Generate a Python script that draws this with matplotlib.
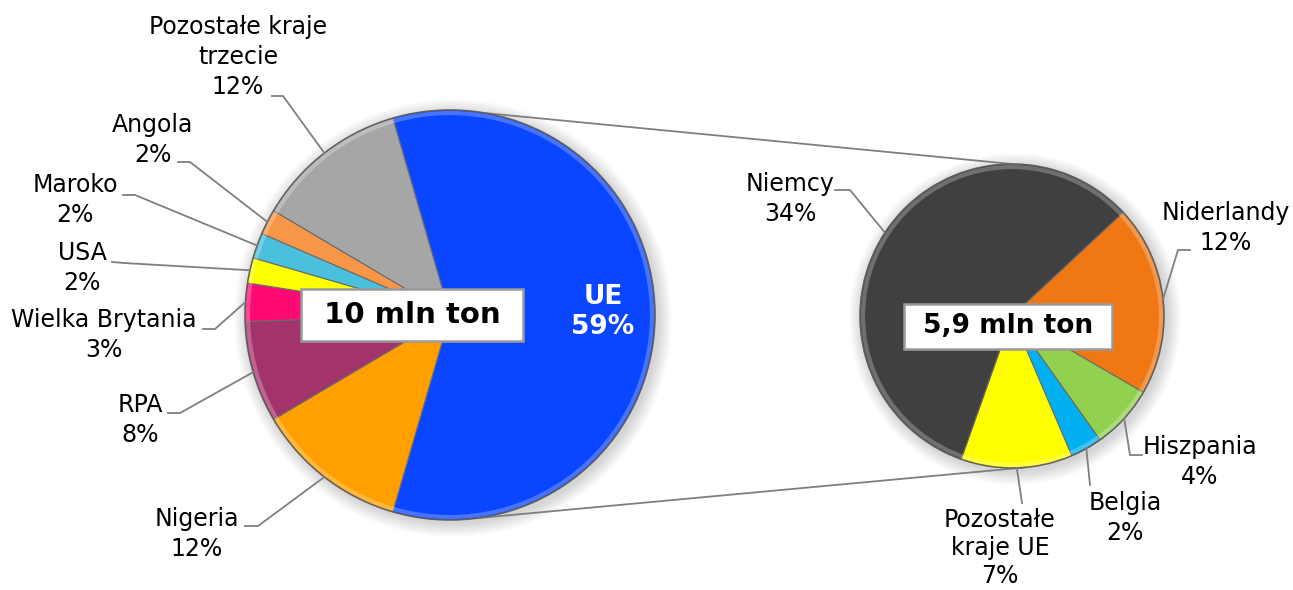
import numpy as np
import matplotlib.pyplot as plt
from matplotlib.patches import Circle

plt.rcParams["font.family"] = "DejaVu Sans"

# ---- main pie: sources, share of 10 mln ton (%) ----
main_labels = ["UE", "Nigeria", "RPA", "Wielka Brytania", "USA", "Maroko",
               "Angola", "Pozostałe kraje\ntrzecie"]
main_values = [59, 12, 8, 3, 2, 2, 2, 12]
main_colors = ["#0A46FF", "#FFA000", "#A3336B", "#FF0A73", "#FFFF00",
               "#4BC0DC", "#F79646", "#A6A6A6"]

# ---- second pie: split of UE (% of total) ----
eu_labels = ["Niderlandy", "Hiszpania", "Belgia", "Pozostałe\nkraje UE", "Niemcy"]
eu_values = [12, 4, 2, 7, 34]
eu_colors = ["#F07814", "#92D050", "#00B0F0", "#FFFF00", "#404040"]

main_total = "10 mln ton"
eu_total = "5,9 mln ton"

W, H = 1293, 590
def P(x, y):            # pixel (from top) -> axes coords
    return (x, H - y)

C1, R1 = P(450, 315), 205
C2, R2 = P(1012, 316), 152

fig = plt.figure(figsize=(W / 100, H / 100), dpi=100)
ax = fig.add_axes([0, 0, 1, 1])

# soft shadow behind pies
for c, r in [(C1, R1), (C2, R2)]:
    for k in range(14):
        ax.add_patch(Circle((c[0] + 3, c[1] - 3), r + 14 - k, color="black",
                            alpha=0.012, lw=0, zorder=0))

start1 = 90 + (main_values[0] / sum(main_values) * 360 - 180) / 2
w1, _ = ax.pie(main_values, colors=main_colors, startangle=start1, counterclock=False,
               center=C1, radius=R1,
               wedgeprops=dict(edgecolor="#6b6b6b", linewidth=0.8))
w2, _ = ax.pie(eu_values, colors=eu_colors, startangle=43, counterclock=False,
               center=C2, radius=R2,
               wedgeprops=dict(edgecolor="#6b6b6b", linewidth=0.8))

# bevel-ish highlight at the rim
for c, r in [(C1, R1), (C2, R2)]:
    ax.add_patch(Circle(c, r - 3, fill=False, ec="white", lw=3, alpha=0.25, zorder=3))
    ax.add_patch(Circle(c, r, fill=False, ec="#555555", lw=1.2, alpha=0.6, zorder=3))

def edge(c, r, w):
    a = np.deg2rad((w.theta1 + w.theta2) / 2)
    return (c[0] + r * np.cos(a), c[1] + r * np.sin(a))

def pt(c, r, deg):
    a = np.deg2rad(deg)
    return (c[0] + r * np.cos(a), c[1] + r * np.sin(a))

# connector lines between the pies
for a1, a2 in [(80, 90), (-82, -85)]:
    p1, p2 = pt(C1, R1, a1), pt(C2, R2, a2)
    ax.plot([p1[0], p2[0]], [p1[1], p2[1]], color="#7f7f7f", lw=1.3, zorder=1)

lbl_font = dict(fontsize=17, color="black", ha="center", va="center", linespacing=1.3)
line_kw = dict(color="#7f7f7f", lw=1.3, zorder=4)

# label layout: text centre, leader start, elbow
main_layout = {
    1: ((197, 534), (245, 526), (258, 526)),
    2: ((140, 420), (168, 413), (180, 413)),
    3: ((104, 335), (203, 329), (215, 329)),
    4: ((82, 268), (112, 262), (124, 263)),
    5: ((75, 200), (123, 195), (135, 195)),
    6: ((153, 140), (178, 162), (190, 162)),
    7: ((238, 57), (272, 96), (283, 96)),
}
for i, (tpos, s, e) in main_layout.items():
    ex, ey = edge(C1, R1, w1[i])
    xs = [P(*s)[0], P(*e)[0], ex]
    ys = [P(*s)[1], P(*e)[1], ey]
    ax.plot(xs, ys, **line_kw)
    ax.text(*P(*tpos), f"{main_labels[i]}\n{main_values[i]}%", **lbl_font)

ax.text(*P(603, 312), f"{main_labels[0]}\n{main_values[0]}%", fontsize=19,
        color="white", fontweight="bold", ha="center", va="center", linespacing=1.15, zorder=5)

eu_layout = {
    0: ((1226, 228), (1190, 250), (1178, 250)),
    1: ((1200, 462), (1142, 455), (1130, 455)),
    2: ((1125, 518), (1090, 485), (1090, 485)),
    3: ((1000, 548), (1022, 503), (1022, 503)),
    4: ((790, 199), (835, 190), (850, 190)),
}
for i, (tpos, s, e) in eu_layout.items():
    ex, ey = edge(C2, R2, w2[i])
    xs = [P(*s)[0], P(*e)[0], ex]
    ys = [P(*s)[1], P(*e)[1], ey]
    ax.plot(xs, ys, **line_kw)
    fs = dict(lbl_font, linespacing=1.22) if i == 3 else lbl_font
    ax.text(*P(*tpos), f"{eu_labels[i]}\n{eu_values[i]}%", **fs)

# total boxes
ax.text(*P(412, 315), f" {main_total} ", fontsize=21, fontweight="bold", ha="center",
        va="center", zorder=6,
        bbox=dict(boxstyle="square,pad=0.42", fc="white", ec="#9a9a9a", lw=1.8))
ax.text(*P(1008, 326), f" {eu_total} ", fontsize=19, fontweight="bold", ha="center",
        va="center", zorder=6,
        bbox=dict(boxstyle="square,pad=0.36", fc="white", ec="#9a9a9a", lw=1.8))

ax.set_xlim(0, W)
ax.set_ylim(0, H)
ax.set_aspect("equal")
ax.axis("off")
fig.savefig("out.png", dpi=100)
